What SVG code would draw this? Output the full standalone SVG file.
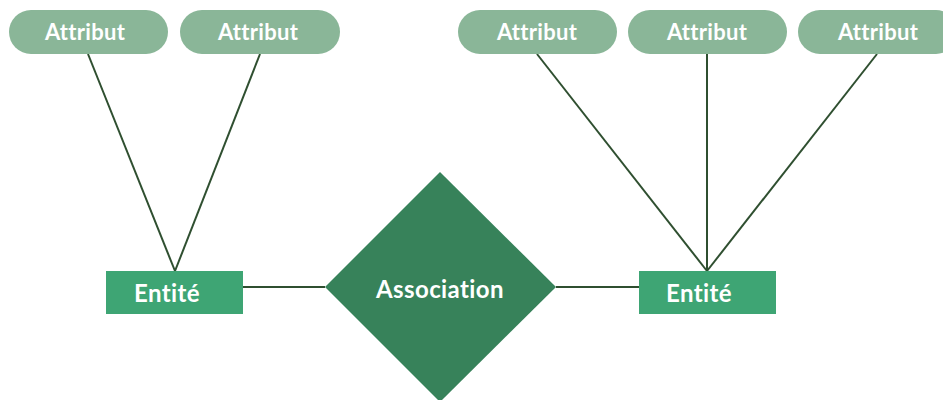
<svg xmlns="http://www.w3.org/2000/svg" width="943" height="400" viewBox="0 0 943 400">
<style>
.attr{fill:#8ab698}
.ent{fill:#3ea574}
.assoc{fill:#37825a}
.lbl{fill:#ffffff;font-family:Lato,"Open Sans",sans-serif;font-weight:bold;text-anchor:middle}
.a{font-size:22px;letter-spacing:0.3px}
.e{font-size:24px;letter-spacing:0.4px}
.conn line{stroke:#2f4f30;stroke-width:2}
</style>
<rect width="943" height="400" fill="#ffffff"/>
<g class="conn">
<line x1="88" y1="54" x2="175" y2="271"/>
<line x1="260" y1="54" x2="175" y2="271"/>
<line x1="537" y1="54" x2="707" y2="271"/>
<line x1="707" y1="54" x2="707" y2="271"/>
<line x1="877" y1="54" x2="707" y2="271"/>
<line x1="243" y1="287" x2="325" y2="287"/>
<line x1="556" y1="287" x2="639" y2="287"/>
</g>
<g id="attr1"><rect class="attr" x="9" y="10" width="159" height="44" rx="22"/><text class="lbl a" x="85" y="40">Attribut</text></g>
<g id="attr2"><rect class="attr" x="180" y="10" width="160" height="44" rx="22"/><text class="lbl a" x="258" y="40">Attribut</text></g>
<g id="attr3"><rect class="attr" x="458" y="10" width="159" height="44" rx="22"/><text class="lbl a" x="537" y="40">Attribut</text></g>
<g id="attr4"><rect class="attr" x="628" y="10" width="159" height="44" rx="22"/><text class="lbl a" x="707" y="40">Attribut</text></g>
<g id="attr5"><rect class="attr" x="798" y="10" width="160" height="44" rx="22"/><text class="lbl a" x="878" y="40">Attribut</text></g>
<g id="entite1"><rect class="ent" x="106" y="271" width="137" height="43"/><text class="lbl e" x="167" y="302">Entité</text></g>
<g id="entite2"><rect class="ent" x="639" y="271" width="137" height="43"/><text class="lbl e" x="699" y="302">Entité</text></g>
<g id="association"><polygon class="assoc" points="440,172 556,287 440,402 325,287"/><text class="lbl e" x="440" y="298">Association</text></g>
</svg>
